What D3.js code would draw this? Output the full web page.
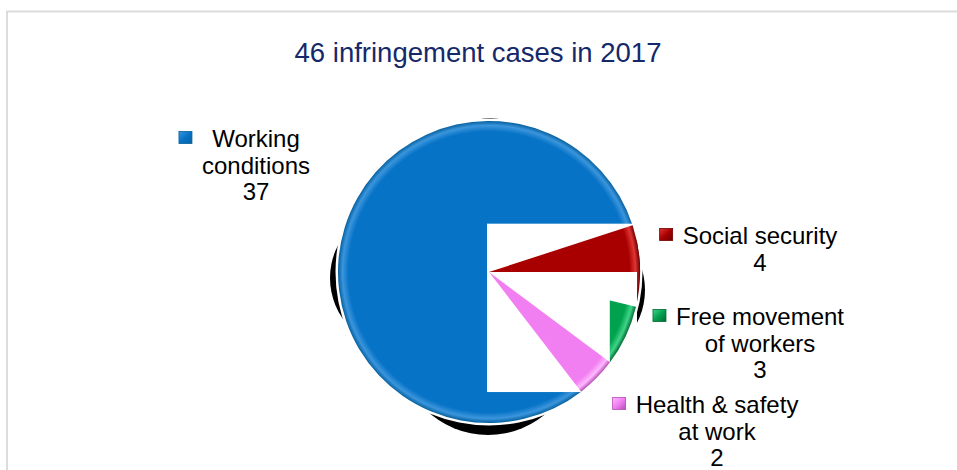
<!DOCTYPE html>
<html>
<head>
<meta charset="utf-8">
<script src="https://cdn.jsdelivr.net/npm/d3@7"></script>
<style>
    body { margin: 0; background: #fff; }
    text { font-family: "Liberation Sans", Arial, sans-serif; }
</style>
</head>
<body>
<div id="chart"></div>
<script>

// data
const categories = ["Working conditions", "Social security", "Free movement of workers", "Health & safety at work"];
const cases = [37, 4, 3, 2];
const labelLines = [["Working", "conditions"], ["Social security"], ["Free movement", "of workers"], ["Health & safety", "at work"]];
const title = "46 infringement cases in 2017";

// styles / layout
const colors = ["#0773c6", "#a80000", "#00a24e", "#f27ff2"];
const lightColors = ["#3b95dc", "#e03434", "#3fd488", "#ffb8ff"];
const darkColors = ["#05609f", "#6e0000", "#006a32", "#b44cb4"];
const labelOffsets = [[-233, -125], [271, -28], [271, 53], [228, 141]];
// black shadow pieces peeking out at the sides: [x, y, radius] relative to the pie centre
const shadowBits = [[-88, 6, 71], [84, 18, 72], [-1, 74, 89], [1, -114, 40]];

const width = 957, height = 470;
const cx = 489, cy = 272, r = 151;

let svg = d3.select("#chart").append("svg")
    .attr("width", width)
    .attr("height", height);

let defs = svg.append("defs");

// slice gradients (bevel look)
colors.forEach(function(c, i){
    let g = defs.append("radialGradient")
        .attr("id", "grad" + i)
        .attr("gradientUnits", "userSpaceOnUse")
        .attr("cx", 0).attr("cy", 0).attr("r", r);
    g.append("stop").attr("offset", "0%").attr("stop-color", c);
    g.append("stop").attr("offset", "93%").attr("stop-color", c);
    g.append("stop").attr("offset", "97%").attr("stop-color", lightColors[i]);
    g.append("stop").attr("offset", "100%").attr("stop-color", darkColors[i]);

    let m = defs.append("linearGradient")
        .attr("id", "mgrad" + i)
        .attr("x1", 0).attr("y1", 0).attr("x2", 1).attr("y2", 1);
    m.append("stop").attr("offset", "0%").attr("stop-color", lightColors[i]);
    m.append("stop").attr("offset", "50%").attr("stop-color", colors[i]);
    m.append("stop").attr("offset", "100%").attr("stop-color", darkColors[i]);
});

defs.append("clipPath").attr("id", "clipTop")
    .append("rect")
    .attr("x", -r - 20).attr("y", -r - 20)
    .attr("width", 2 * r + 40).attr("height", r + 20);

defs.append("clipPath").attr("id", "clipRight")
    .append("rect")
    .attr("x", r * 0.8).attr("y", -r - 20)
    .attr("width", r).attr("height", 2 * r + 40);

// frame
svg.append("path")
    .attr("d", `M7,${height} V11.5 H${width}`)
    .attr("fill", "none")
    .attr("stroke", "#dcdcdc")
    .attr("stroke-width", 2);

// title
svg.append("text")
    .attr("x", 478)
    .attr("y", 62)
    .attr("text-anchor", "middle")
    .attr("fill", "#14286a")
    .style("font-size", "27.5px")
    .text(title);

let g = svg.append("g")
    .attr("transform", `translate(${cx}, ${cy})`);

// shadow
g.selectAll(".shadow")
    .data(shadowBits)
    .enter()
    .append("circle")
    .attr("class", "shadow")
    .attr("cx", d => d[0])
    .attr("cy", d => d[1])
    .attr("r", d => d[2])
    .attr("fill", "#000");

g.append("circle")
    .attr("r", r + 2.5)
    .attr("fill", "#fff");

let pie = d3.pie()
    .sort(null)
    .startAngle(142.4 * Math.PI / 180)
    .endAngle((142.4 + 360) * Math.PI / 180);

let arc = d3.arc()
    .innerRadius(0)
    .outerRadius(r);

let arcs = pie(cases);

g.selectAll(".slice")
    .data(arcs)
    .enter()
    .append("path")
    .attr("class", "slice")
    .attr("d", arc)
    .attr("fill", (d, i) => "url(#grad" + i + ")");

// white patch over the right part of the pie (as in the picture)
g.append("rect")
    .attr("x", -2)
    .attr("y", -r * 0.32)
    .attr("width", r - 1)
    .attr("height", r * 1.115)
    .attr("fill", "#fff");

// slices that show through the patch
g.append("path")
    .datum(arcs[1])
    .attr("d", arc)
    .attr("fill", "url(#grad1)")
    .attr("clip-path", "url(#clipTop)");

g.append("path")
    .datum(arcs[2])
    .attr("d", arc)
    .attr("fill", "url(#grad2)")
    .attr("clip-path", "url(#clipRight)");

g.append("path")
    .datum(arcs[3])
    .attr("d", arc)
    .attr("fill", "url(#grad3)");

// labels
let labels = svg.selectAll(".label")
    .data(categories)
    .enter()
    .append("g")
    .attr("class", "label")
    .attr("transform", (d, i) => `translate(${cx + labelOffsets[i][0]}, ${cy + labelOffsets[i][1]})`);

labels.each(function(d, i){
    let lab = d3.select(this);
    let lines = labelLines[i].concat([String(cases[i])]);
    let txt = lab.append("text")
        .attr("text-anchor", "middle")
        .attr("fill", "#000")
        .style("font-size", "24px");
    lines.forEach(function(l, j){
        txt.append("tspan")
            .attr("x", 0)
            .attr("y", j * 26.5)
            .text(l);
    });
    let bb = txt.node().getBBox();
    lab.append("rect")
        .attr("x", bb.x - 10 - 13)
        .attr("y", -15.5)
        .attr("width", 13)
        .attr("height", 12)
        .attr("fill", "url(#mgrad" + i + ")")
        .attr("stroke", darkColors[i])
        .attr("stroke-width", 0.8);
});

</script>
</body>
</html>
